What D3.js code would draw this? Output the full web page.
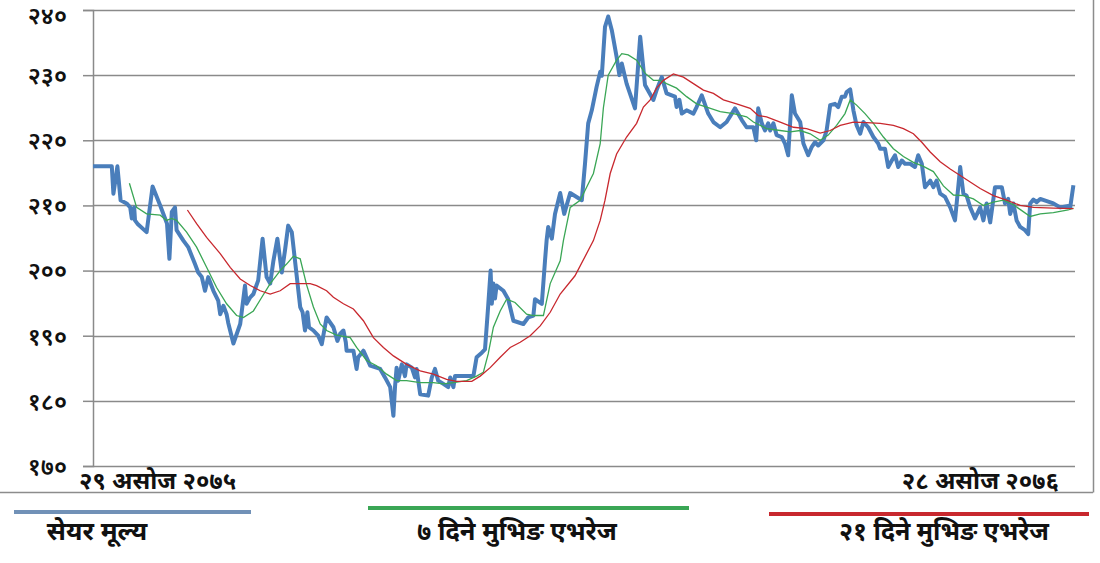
<!DOCTYPE html>
<html><head><meta charset="utf-8">
<script src="https://cdn.jsdelivr.net/npm/d3@7/dist/d3.min.js"></script>
<style>
html,body{margin:0;padding:0;background:#fff;}
svg{display:block;}
text{font-family:"Noto Sans Devanagari","Lohit Devanagari","Mangal","Noto Sans",sans-serif;}
</style></head>
<body><svg id="c" width="1100" height="563"></svg>
<script>
// ---- data (trading-day index, value) ----
const priceDays = [0,4.7,5.1,6.1,6.9,8.4,9.3,9.7,10.3,10.5,11.1,13.4,14.9,16.8,18.5,19.1,19.7,20.5,20.9,22.6,23.8,25.5,26.3,27.2,28,28.8,30.1,31.3,31.8,32.6,33.4,33.8,35.1,36.8,38,38.4,39.3,40.1,41.3,42.4,43.4,44.3,45.1,46.1,47.2,48,48.8,49.7,50.5,51.8,52.4,53,53.6,54,55.1,56.3,57.2,58.4,60.1,61.1,61.8,62.6,63.2,63.4,65.1,65.9,66.3,67.6,69.3,71.8,73,74.3,75.1,75.5,75.9,76.3,77.2,78,78.4,79.7,80.5,80.9,81.8,83.8,84.7,85.5,86.3,87.6,88.8,89.3,90.1,90.5,95.1,95.9,97.2,98,98.8,99.4,99.7,100.1,100.5,100.9,102.6,103.8,105.1,107.6,108.8,110.1,110.5,112.2,113,113.4,113.8,114.7,115.5,116.8,117.8,119.3,122.2,123,123.8,124.7,125.9,126.8,127.2,128,128.8,129.7,130.9,131.6,132.2,133.4,135.5,136.8,138,140.1,140.9,142.2,143.4,145.5,145.9,146.6,147.2,148.4,150.1,150.9,152.2,153.8,155.1,156.8,158.4,160.5,162.2,163.4,165.1,165.8,166.3,167.2,168,168.8,169.3,170.1,170.9,172.2,173,173.8,174.7,175.5,176.8,177.6,178.8,179.7,180.5,181.3,182.6,183.4,184.3,185.5,186.3,187.2,188,188.4,189.3,190.1,190.9,191.8,192.6,193.8,195.1,196.3,196.8,198,198.8,199.7,200.5,201.3,202.2,203,204.3,205.5,206.3,207.2,208,209.3,210.1,210.9,211.8,213,214.3,215.5,216.8,217.2,217.6,218.4,219.3,220.5,221.8,222.6,223.4,224.3,225.5,227.2,228,228.8,229.3,230.1,230.9,231.8,233,233.8,234.3,235.1,235.9,236.8,240.1,241.8,243.8,244.3,245.1];
const priceValues = [216,216,211.8,216,210.8,210.3,209.7,208,209.7,207.7,207.2,205.9,212.9,210,207.2,201.8,209,209.7,206.2,204.6,203.6,201,199.7,199,196.9,199,196.9,195.4,193.3,194.6,193.3,192,188.8,191.8,197.7,194.9,195.9,196.4,198.5,204.9,199,198,201.5,204.9,199.7,203.1,206.9,205.9,201.5,194.4,193.6,190.8,193.6,191.3,190.8,190,188.7,192.8,191.3,189.2,190.3,190.8,189,187.7,187.7,184.9,186.7,187.7,185.4,184.9,183.6,182.1,177.7,182.1,185.1,183.1,185.6,183.8,185.6,185.1,183.6,184.9,181,180.8,183.6,184.9,183.1,182.6,182.1,183.6,182.1,183.8,183.8,186.7,187.4,187.9,194.6,200,194.9,198,195.7,197.7,196.9,195.6,192.3,191.8,192.8,193.1,195.6,194.9,201.5,204.6,206.7,204.9,208.7,211.9,208.7,211.9,210.8,216.4,222.6,224.6,228.2,230.5,229.9,237.4,239,236.9,232.8,230,231.8,228.7,224.9,235.9,228.5,226.2,227.7,229.7,227.2,226.7,225.1,226.2,224.1,224.6,224.1,225.1,226.9,224.1,222.8,222,222.8,224.9,223.1,222,222,220,224.9,222.6,221.5,222.6,221.5,222.6,220.8,220.5,219.5,217.7,226.9,224.1,222.8,219.5,217.7,219,219.7,219.2,220,221.5,225.4,225.6,225.1,226.7,226.7,227.4,227.8,224.6,222.3,221,222.8,222,220.5,219.5,218.7,218.7,215.9,216.9,217.7,215.9,216.9,216.4,216.4,215.9,217.7,216.4,212.8,213.8,212.8,213.8,211.8,211.3,209.7,207.7,215.9,213.8,211.8,211.5,209.7,208,209.7,207.7,210.3,207.4,212.8,212.8,210.3,211,208.7,210.3,207.7,206.7,206.2,205.6,210.3,210.9,210.5,211,210.3,209.7,209.9,209.7,213.1];

const ma7Days = [9.1,10.9,13.4,16.8,18.4,19.7,20.9,23.4,25.9,28.4,30.9,33.4,35.9,37.6,40.1,42.2,44.3,46.8,48.4,50.1,51.8,53.4,55.1,56.8,58.4,60.9,64.3,65.9,68.4,70.9,73.4,75.9,78.4,81.8,85.1,87.6,90.1,93.4,95.9,97.6,98.8,100.1,101.8,103.4,105.5,108.4,110.1,112.6,114.3,116.8,117.6,119.3,121.8,123.4,125.1,126.8,127.6,128.8,130.9,132.2,133.8,135.9,138,140.1,141.8,143.4,145.9,148.4,150.9,153.4,156.8,160.1,163.4,165.1,168.4,171.8,174.3,176.8,179.3,181.8,183.8,185.9,188,189.3,190.9,193,195.1,197.6,200.1,202.6,205.1,207.6,210.1,212.6,215.1,217.6,220.1,222.6,225.1,227.6,230.1,232.2,234.3,236.8,240.1,243.8,245.1];
const ma7Values = [213.4,209.7,208.7,208.5,207.7,208,207.7,205.9,203.6,200.5,197.4,194.9,193.1,192.8,193.8,195.9,198,200,201,202.2,201.8,197.8,194.4,191.8,190.8,190.1,189.7,188.2,186.2,185.4,184.1,183.1,183.1,182.8,182.8,182.6,182.8,183.1,183.8,184.4,187.2,191.3,193.8,195.6,195.1,193.3,193.1,193.1,198,201.5,204.6,209.7,210.8,212.8,214.9,219.5,225,230,232.3,233.3,233.1,232.3,230.3,229.2,229.2,228.7,228,226.7,225.6,225.1,224.4,224.1,223.6,222.8,221.8,221.5,221.3,221.5,221,220,220.8,222.3,224.1,226.2,225.4,224.1,222.6,220.5,218.7,217.5,216.6,216,215.2,213,211.6,211.5,211,210,210.5,210.8,210.1,209.2,208.3,208.7,208.9,209.3,209.6];

const ma21Days = [23.6,25.9,28.4,31.8,34.3,36.8,39.3,41.8,44.3,46.8,49.3,51.8,54.3,55.9,58.4,60.1,62.6,65.1,67.6,70.1,72.6,75.1,78.4,81.8,85.1,88.4,90.9,94.7,96.8,99.3,101.8,104.3,106.8,109.3,111.8,114.3,116.8,120.5,125.1,126.8,128,129.3,130.9,133.4,135.9,137.6,139.3,140.9,142.6,145.1,147.6,150.1,152.6,155.1,157.6,160.9,164.3,166.3,168.4,171.8,175.1,178.4,181.8,184.3,186.8,190.1,193.4,196.8,200.1,202.6,205.1,207.2,209.3,211.8,214.3,216.8,219.3,221.8,225.1,228.4,231.8,235.1,240.1,245.1];
const ma21Values = [209.3,207.2,205.1,202.6,200.5,198.7,197.7,196.9,196.4,196.9,198,198,198,197.7,196.9,195.9,194.9,194.1,192.3,189.7,188.2,186.9,185.6,184.6,184.1,183.3,183,183,183.8,185.1,186.7,188.2,189,190,191.5,193.6,196.4,199.2,204.6,207.7,210.8,214.9,217.9,220.5,222.6,225.1,226.2,228,229.2,230.2,229.7,228.7,227.7,227.2,226.2,225.6,224.9,223.8,223.6,222.8,222,221.8,221.1,221.5,222.3,222.8,222.7,222.6,222.3,221.8,221,219.7,218.2,216.7,215.6,214.6,213.6,212.6,211.5,210.8,210,209.7,209.6,209.5];

const yTicks = [170,180,190,200,210,220,230,240];
const yTickLabels = ["१७०","१८०","१९०","२००","२१०","२२०","२३०","२४०"];
const xStartLabel = "२९ असोज २०७५";
const xEndLabel = "२८ असोज २०७६";
const seriesNames = ["सेयर मूल्य","७ दिने मुभिङ एभरेज","२१ दिने मुभिङ एभरेज"];
const seriesColors = ["#4a7ebb","#3aa655","#c8282e"];
const legendColors = ["#7191b7","#3aa655","#c8282e"];

// ---- drawing ----
const svg = d3.select("#c");
const x = d3.scaleLinear().domain([0,245]).range([93,1073]);
const y = d3.scaleLinear().domain([170,240]).range([466,10]);

// outer chart border
svg.append("line").attr("x1",0).attr("x2",1093).attr("y1",492.5).attr("y2",492.5).attr("stroke","#8c8c8c").attr("stroke-width",1.5);
svg.append("line").attr("x1",1093.5).attr("x2",1093.5).attr("y1",0).attr("y2",492.5).attr("stroke","#8c8c8c").attr("stroke-width",1.5);

// gridlines
svg.append("g").selectAll("line").data(yTicks).join("line")
  .attr("x1",93).attr("x2",1075)
  .attr("y1",d=>Math.round(y(d))+0.5).attr("y2",d=>Math.round(y(d))+0.5)
  .attr("stroke","#8a8a8a").attr("stroke-width",1.5);

// y axis
const yAxis = d3.axisLeft(y).tickValues(yTicks).tickSize(10).tickPadding(16)
  .tickFormat((d,i)=>yTickLabels[i]);
const ya = svg.append("g").attr("transform","translate(93,0)").call(yAxis);
ya.select(".domain").attr("stroke","#8a8a8a").attr("stroke-width",1.5);
ya.selectAll(".tick line").attr("stroke","#8a8a8a").attr("stroke-width",1.5);
ya.selectAll(".tick text").attr("fill","#111").style("font-size","24px").style("font-weight","600")
  .attr("dy",d=>d===240?"0.55em":"0.35em");

// x labels
svg.append("text").attr("x",x(0)-14).attr("y",489).text(xStartLabel)
  .style("font-size","24px").style("font-weight","bold").attr("fill","#111");
svg.append("text").attr("x",x(245)-14).attr("y",489).attr("text-anchor","end").text(xEndLabel)
  .style("font-size","24px").style("font-weight","bold").attr("fill","#111");

// lines
const mk = (days,vals)=>days.map((d,i)=>[d,vals[i]]);
const line = d3.line().x(d=>x(d[0])).y(d=>y(d[1]));
svg.append("path").datum(mk(priceDays,priceValues)).attr("d",line)
  .attr("fill","none").attr("stroke",seriesColors[0]).attr("stroke-width",4).attr("stroke-linejoin","round");
svg.append("path").datum(mk(ma7Days,ma7Values)).attr("d",line)
  .attr("fill","none").attr("stroke",seriesColors[1]).attr("stroke-width",1.3);
svg.append("path").datum(mk(ma21Days,ma21Values)).attr("d",line)
  .attr("fill","none").attr("stroke",seriesColors[2]).attr("stroke-width",1.3);

// legend
const leg = [
  {x1:14,x2:251,ly:512,tx:97,fs:26},
  {x1:368,x2:689,ly:508,tx:517,fs:25.5},
  {x1:769,x2:1089,ly:514,tx:944,fs:25}
];
leg.forEach((l,i)=>{
  svg.append("line").attr("x1",l.x1).attr("x2",l.x2).attr("y1",l.ly).attr("y2",l.ly)
    .attr("stroke",legendColors[i]).attr("stroke-width",4);
  svg.append("text").attr("x",l.tx).attr("y",540).attr("text-anchor","middle").text(seriesNames[i])
    .style("font-size",l.fs+"px").style("font-weight","bold").attr("fill","#111");
});
</script></body></html>
